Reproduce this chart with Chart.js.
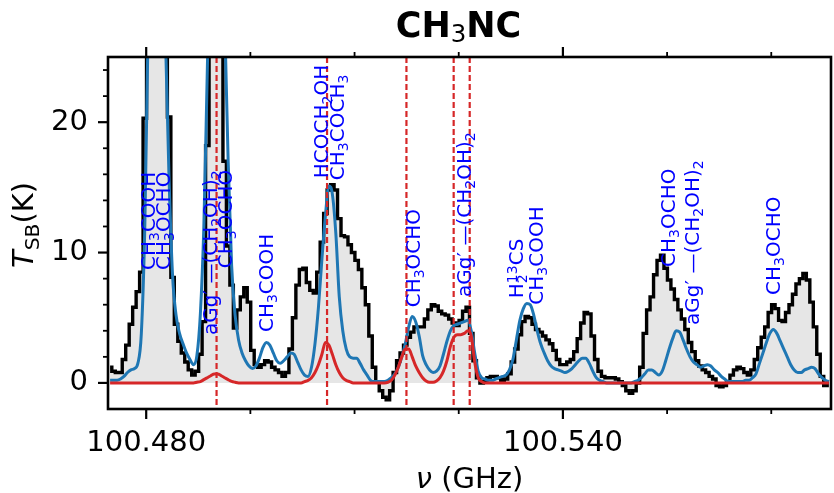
<!DOCTYPE html>
<html><head><meta charset="utf-8">
<script src="https://cdn.jsdelivr.net/npm/chart.js@4.4.1/dist/chart.umd.min.js"></script>
<style>html,body{margin:0;padding:0;background:#fff;}canvas{display:block;}</style>
</head><body>
<canvas id="c" width="834" height="493"></canvas>
<script>
// channel frequencies (GHz)
const FREQ = [
100.4748,100.4753,100.4758,100.4763,100.4768,100.4773,100.4778,100.4783,100.4788,100.4793,
100.4798,100.4803,100.4808,100.4813,100.4818,100.4823,100.4828,100.4833,100.4838,100.4843,
100.4848,100.4853,100.4858,100.4863,100.4868,100.4873,100.4878,100.4883,100.4888,100.4893,
100.4898,100.4903,100.4908,100.4913,100.4918,100.4923,100.4928,100.4933,100.4938,100.4943,
100.4948,100.4953,100.4958,100.4963,100.4968,100.4973,100.4978,100.4983,100.4988,100.4993,
100.4998,100.5003,100.5008,100.5013,100.5018,100.5023,100.5028,100.5033,100.5038,100.5043,
100.5048,100.5053,100.5058,100.5063,100.5068,100.5073,100.5078,100.5083,100.5088,100.5093,
100.5098,100.5103,100.5108,100.5113,100.5118,100.5123,100.5128,100.5133,100.5138,100.5143,
100.5148,100.5153,100.5158,100.5163,100.5168,100.5173,100.5178,100.5183,100.5188,100.5193,
100.5198,100.5203,100.5208,100.5213,100.5218,100.5223,100.5228,100.5233,100.5238,100.5243,
100.5248,100.5253,100.5258,100.5263,100.5268,100.5273,100.5278,100.5283,100.5288,100.5293,
100.5298,100.5303,100.5308,100.5313,100.5318,100.5323,100.5328,100.5333,100.5338,100.5343,
100.5348,100.5353,100.5358,100.5363,100.5368,100.5373,100.5378,100.5383,100.5388,100.5393,
100.5398,100.5403,100.5408,100.5413,100.5418,100.5423,100.5428,100.5433,100.5438,100.5443,
100.5448,100.5453,100.5458,100.5463,100.5468,100.5473,100.5478,100.5483,100.5488,100.5493,
100.5498,100.5503,100.5508,100.5513,100.5518,100.5523,100.5528,100.5533,100.5538,100.5543,
100.5548,100.5553,100.5558,100.5563,100.5568,100.5573,100.5578,100.5583,100.5588,100.5593,
100.5598,100.5603,100.5608,100.5613,100.5618,100.5623,100.5628,100.5633,100.5638,100.5643,
100.5648,100.5653,100.5658,100.5663,100.5668,100.5673,100.5678,100.5683,100.5688,100.5693,
100.5698,100.5703,100.5708,100.5713,100.5718,100.5723,100.5728,100.5733,100.5738,100.5743,
100.5748,100.5753,100.5758,100.5763,100.5768,100.5773,100.5778,100.5783];

// observed spectrum T_SB (K)
const T_OBS = [
1.2,0.9,0.8,0.8,1.8,2.9,4.5,5.8,7.0,8.5,
20.3,35,45,50,48,40,30,20.4,8.1,4.5,
3.2,2.3,1.6,1.0,0.6,0.9,2.2,4.7,18.2,35,
45,42,35,17,10.5,7.5,4.2,5.6,6.6,7.3,
6.2,2.5,1.4,1.2,1.4,1.7,1.6,1.2,1.0,0.8,
0.5,0.8,2.6,5.0,7.5,8.7,8.8,7.7,7.1,6.9,
8.5,10.8,13.0,14.8,15.2,14.8,12.6,11.3,11.2,10.6,
10.0,9.4,8.7,7.3,6.0,3.6,1.2,0.1,-0.6,-1.1,
-1.3,-0.6,0.8,1.7,2.3,2.9,3.5,3.9,4.3,4.3,
4.3,4.9,5.6,6.0,5.9,5.5,5.3,5.2,4.9,4.6,
4.4,4.8,5.5,5.8,3.8,1.7,0.4,0.0,0.1,0.4,
0.5,0.5,0.4,0.2,0.3,0.7,1.6,2.6,3.7,4.7,
5.1,5.0,4.5,4.1,3.9,3.6,3.3,3.0,2.5,1.8,
1.4,1.4,1.6,1.8,2.4,3.4,4.6,5.4,5.3,3.6,
1.8,0.9,0.5,0.4,0.4,0.4,0.3,0.1,-0.2,-0.6,
-0.8,-0.6,0.0,1.2,3.8,5.6,6.6,8.3,9.4,9.8,
8.8,7.9,7.2,6.4,5.6,4.9,4.1,3.1,2.4,1.7,
1.3,1.0,0.8,0.5,0.3,-0.2,-0.3,-0.2,0.1,0.6,
1.0,1.2,1.1,0.8,0.6,1.0,1.8,2.7,3.5,4.3,
5.4,6.0,5.7,4.8,4.7,5.4,6.0,6.8,7.6,8.0,
8.4,7.9,6.2,4.3,2.2,0.5,-0.2,0.0];

// full model (all species), blue
const T_MODEL = [
0.2,0.2,0.2,0.3,0.5,0.8,1.0,1.1,1.5,3.8,
12,28,40,45,45,38,26,15.5,8.2,5.2,
3.8,3.0,2.3,1.8,1.4,2.1,5.3,12,24,36,
42,42,38,28,17,9.0,5.2,3.3,2.3,1.7,
1.3,1.1,1.3,1.9,2.7,3.1,2.9,2.3,1.7,1.5,
1.7,2.0,2.3,2.2,1.6,1.0,0.6,0.5,1.2,3.0,
5.8,9.5,12.8,15.1,14.5,11.5,6.6,4.0,2.6,2.0,
1.9,1.9,1.5,1.0,0.6,0.2,0.1,0.1,0.1,0.1,
0.2,0.4,0.7,1.2,2.0,3.0,4.3,5.1,4.7,3.6,
2.1,1.4,1.0,0.8,0.9,1.3,2.2,3.2,4.0,4.4,
4.5,4.6,4.7,4.8,4.0,2.3,0.9,0.4,0.3,0.2,
0.2,0.3,0.4,0.5,0.6,1.0,1.8,3.3,4.8,5.7,
6.1,6.0,5.2,4.0,3.0,2.3,1.7,1.3,1.1,1.0,
0.9,0.8,0.9,1.1,1.4,1.7,1.9,1.9,1.5,0.9,
0.4,0.2,0.1,0.0,0.0,0.0,0.0,0.0,0.0,0.0,
0.0,0.1,0.2,0.4,0.7,1.0,1.0,0.8,0.6,0.9,
1.7,2.6,3.4,4.0,3.9,3.3,2.6,2.0,1.6,1.4,
1.2,1.3,1.4,1.3,1.0,0.8,0.5,0.3,0.1,0.1,
0.1,0.1,0.1,0.2,0.2,0.4,0.7,1.5,2.3,3.1,
3.8,4.1,3.8,3.2,2.6,2.0,1.4,1.0,0.8,0.8,
1.0,1.1,1.2,1.1,0.7,0.4,0.2,0.1];

// CH3NC model, red
const T_CH3NC = [
0,0,0,0,0,0,0,0,0,0,
0,0,0,0,0,0,0,0,0,0,
0,0,0,0,0,0.05,0.1,0.25,0.4,0.55,
0.68,0.68,0.55,0.4,0.25,0.12,0.05,0,0,0,
0,0,0,0,0,0,0,0,0,0,
0,0,0,0,0,0,0.1,0.2,0.4,0.8,
1.4,2.2,3.1,2.9,2.2,1.4,0.8,0.4,0.2,0.1,
0,0,0,0,0,0,0,0,0,0,
0.05,0.2,0.6,1.2,2.0,2.6,2.6,2.0,1.3,0.8,
0.4,0.15,0.05,0.05,0.15,0.4,0.9,1.7,2.8,3.5,
3.7,3.7,3.8,4.0,3.6,1.6,0.4,0.1,0,0,
0,0,0,0,0,0,0,0,0,0,
0,0,0,0,0,0,0,0,0,0,
0,0,0,0,0,0,0,0,0,0,
0,0,0,0,0,0,0,0,0,0,
0,0,0,0,0,0,0,0,0,0,
0,0,0,0,0,0,0,0,0,0,
0,0,0,0,0,0,0,0,0,0,
0,0,0,0,0,0,0,0,0,0,
0,0,0,0,0,0,0,0,0,0,
0,0,0,0,0,0,0,0];

// CH3NC transition frequencies (red dashed lines)
const CH3NC_LINES = [100.49013, 100.50604, 100.51747, 100.52427, 100.52658];

// other species labels
const LABEL_TEXT = ["CH_3COOH","CH_3OCHO","aGg′ —(CH_2OH)_2","CH_3OCHO","CH_3COOH",
  "HCOCH_2OH","CH_3COCH_3","CH_3OCHO","aGg′ —(CH_2OH)_2","H_2^{13}CS","CH_3COOH",
  "CH_3OCHO","aGg′ —(CH_2OH)_2","CH_3OCHO"];
const LABEL_FREQ = [100.48132,100.48348,100.49024,100.49240,100.49830,
  100.50622,100.50852,100.51945,100.52679,100.53427,100.53715,
  100.55614,100.55960,100.57125];
const LABEL_Y = [8.66,8.66,3.68,8.8,3.9,15.7,15.55,5.8,6.6,6.5,6.0,8.9,4.45,6.75];

const X_MAJOR = [100.480, 100.540];
const X_MINOR = [100.495, 100.510, 100.525, 100.555, 100.570];
const Y_MAJOR = [0, 10, 20];
const Y_MINOR = [2, 4, 6, 8, 12, 14, 16, 18, 22, 24];
const X_RANGE = [100.4745, 100.5786];
const Y_RANGE = [-2, 25];

const FAM = "'DejaVu Sans'";

function parseRich(s) {
  const out = []; let i = 0, buf = '';
  const flush = () => { if (buf) { out.push({t: buf}); buf = ''; } };
  while (i < s.length) {
    const c = s[i];
    if (c === '_' || c === '^') {
      flush();
      let g;
      if (s[i + 1] === '{') { const j = s.indexOf('}', i + 2); g = s.slice(i + 2, j); i = j + 1; }
      else { g = s[i + 1]; i += 2; }
      const kind = c === '_' ? 'sub' : 'sup';
      const last = out[out.length - 1];
      if (last && last.t === undefined && last[kind] === undefined) last[kind] = g;
      else out.push({[kind]: g});
    } else { buf += c; i++; }
  }
  flush();
  return out;
}

function drawRich(ctx, segs, x, y, o) {
  const S = o.size, s2 = S * 0.7;
  const font = (sz, seg) => `${seg.it ? 'italic ' : ''}${seg.bold ? 'bold ' : ''}${sz}px ${FAM}`;
  const items = segs.map(seg => {
    if (seg.t !== undefined) { ctx.font = font(S, seg); return {seg, w: ctx.measureText(seg.t).width}; }
    ctx.font = font(s2, seg);
    const w1 = seg.sub ? ctx.measureText(seg.sub).width : 0;
    const w2 = seg.sup ? ctx.measureText(seg.sup).width : 0;
    return {seg, w: Math.max(w1, w2)};
  });
  const total = items.reduce((a, b) => a + b.w, 0);
  ctx.save();
  ctx.translate(x, y);
  if (o.rotate) ctx.rotate(-Math.PI / 2);
  ctx.fillStyle = o.color || '#000';
  ctx.textAlign = 'left'; ctx.textBaseline = 'alphabetic';
  let cx = o.align === 'center' ? -total / 2 : 0;
  items.forEach(({seg, w}) => {
    if (seg.t !== undefined) { ctx.font = font(S, seg); ctx.fillText(seg.t, cx, 0); }
    else {
      ctx.font = font(s2, seg);
      if (seg.sub) ctx.fillText(seg.sub, cx, S * (o.subDrop || 0.2));
      if (seg.sup) ctx.fillText(seg.sup, cx, -S * (o.supRise || 0.3));
    }
    cx += w;
  });
  ctx.restore();
}

const decor = {
  id: 'decor',
  afterDatasetsDraw(chart) {
    const {ctx, chartArea: a, scales: {x, y}} = chart;
    ctx.save();
    ctx.beginPath(); ctx.rect(a.left, a.top, a.right - a.left, a.bottom - a.top); ctx.clip();
    ctx.strokeStyle = '#d62728'; ctx.lineWidth = 2.2; ctx.setLineDash([6, 3]);
    CH3NC_LINES.forEach(f => {
      const px = x.getPixelForValue(f);
      ctx.beginPath(); ctx.moveTo(px, a.top); ctx.lineTo(px, a.bottom); ctx.stroke();
    });
    ctx.restore();
    LABEL_TEXT.forEach((t, i) => {
      drawRich(ctx, parseRich(t), x.getPixelForValue(LABEL_FREQ[i]), y.getPixelForValue(LABEL_Y[i]),
        {size: 20, color: '#0000ff', rotate: true, subDrop: 0.2, supRise: 0.3});
    });
  },
  afterDraw(chart) {
    const {ctx, chartArea: a, scales: {x, y}} = chart;
    ctx.save();
    ctx.strokeStyle = '#000';
    const tick = (len, w, list, axis) => {
      ctx.lineWidth = w;
      list.forEach(v => {
        ctx.beginPath();
        if (axis === 'x') {
          const p = x.getPixelForValue(v);
          ctx.moveTo(p, a.bottom); ctx.lineTo(p, a.bottom + len);
          ctx.moveTo(p, a.top); ctx.lineTo(p, a.top - len);
        } else {
          const p = y.getPixelForValue(v);
          ctx.moveTo(a.left, p); ctx.lineTo(a.left - len, p);
        }
        ctx.stroke();
      });
    };
    tick(10, 2.2, X_MAJOR, 'x'); tick(5, 1.8, X_MINOR, 'x');
    tick(10, 2.2, Y_MAJOR, 'y'); tick(5, 1.8, Y_MINOR, 'y');
    ctx.lineWidth = 2.6;
    ctx.strokeRect(a.left, a.top, a.right - a.left, a.bottom - a.top);
    ctx.restore();
    drawRich(ctx, [{t: 'CH', bold: true}, {sub: '3'}, {t: 'NC', bold: true}], 458.5, 37,
      {size: 35, align: 'center', subDrop: 0.15});
    drawRich(ctx, [{t: 'ν', it: true}, {t: ' (GHz)'}], (a.left + a.right) / 2, 488, {size: 29, align: 'center'});
    drawRich(ctx, [{t: 'T', it: true}, {sub: 'SB'}, {t: '(K)'}], 33.3, 268, {size: 29, rotate: true, subDrop: 0.18});
  }
};

Chart.defaults.font.family = FAM;
Chart.defaults.color = '#000';

new Chart(document.getElementById('c'), {
  type: 'line',
  data: {
    datasets: [
      {label: 'CH3NC', data: FREQ.map((f, i) => ({x: f, y: T_CH3NC[i]})), borderColor: '#d62728',
        borderWidth: 3, pointRadius: 0, cubicInterpolationMode: 'monotone', fill: false, order: 1},
      {label: 'model', data: FREQ.map((f, i) => ({x: f, y: T_MODEL[i]})), borderColor: '#1f77b4',
        borderWidth: 3, pointRadius: 0, cubicInterpolationMode: 'monotone', fill: false, order: 2},
      {label: 'obs', data: FREQ.map((f, i) => ({x: f, y: T_OBS[i]})), borderColor: '#000',
        borderWidth: 3.4, pointRadius: 0, stepped: 'middle', borderJoinStyle: 'miter',
        fill: {value: 0}, backgroundColor: '#e6e6e6', order: 3}
    ]
  },
  options: {
    responsive: false, animation: false, events: [], devicePixelRatio: 1,
    layout: {padding: {left: 0, top: 57, right: 3, bottom: 0}},
    plugins: {legend: {display: false}, tooltip: {enabled: false}, title: {display: false}},
    scales: {
      x: {
        type: 'linear', min: X_RANGE[0], max: X_RANGE[1],
        grid: {display: false, drawTicks: false}, border: {display: false},
        afterBuildTicks: s => { s.ticks = X_MAJOR.map(v => ({value: v})); },
        afterFit: s => { s.height = 84; },
        ticks: {autoSkip: false, maxRotation: 0, padding: 17, font: {size: 29},
          callback: v => Number(v).toFixed(3)}
      },
      y: {
        type: 'linear', min: Y_RANGE[0], max: Y_RANGE[1],
        grid: {display: false, drawTicks: false}, border: {display: false},
        afterBuildTicks: s => { s.ticks = Y_MAJOR.map(v => ({value: v})); },
        afterFit: s => { s.width = 108; },
        ticks: {autoSkip: false, padding: 20, font: {size: 29}, callback: v => String(v)}
      }
    }
  },
  plugins: [decor]
});
</script>
</body></html>
